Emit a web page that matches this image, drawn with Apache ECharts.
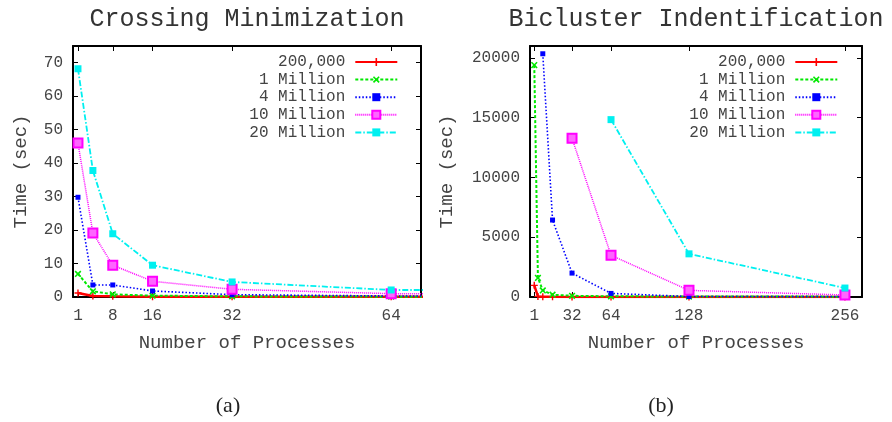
<!DOCTYPE html>
<html><head><meta charset="utf-8">
<script src="https://cdn.jsdelivr.net/npm/echarts@6/dist/echarts.min.js"></script>
<style>html,body{margin:0;padding:0;background:#fff}#c{width:892px;height:422px}</style>
</head><body><div id="c"></div>
<script>
// ---------- data ----------
const seriesNames = ['200,000', '1 Million', '4 Million', '10 Million', '20 Million'];

// (a) Crossing Minimization
const procsA = [1, 4, 8, 16, 32, 64, 128];
const crossing200k = [1.2, 0.3, 0.2, 0.1, 0.1, 0.05, 0.05];
const crossing1M   = [6.9, 1.7, 0.8, 0.4, 0.2, 0.1, 0.1];
const crossing4M   = [29.8, 3.6, 3.6, 1.8, 0.7, 0.3, 0.2];
const crossing10M  = [46.0, 19.1, 9.5, 4.7, 2.3, 1.0, 1.0];
const crossing20M  = [68.2, 37.8, 18.9, 9.5, 4.5, 2.1, 2.0];
const xTicksA = [1, 8, 16, 32, 64];
const yTicksA = [0, 10, 20, 30, 40, 50, 60, 70];

// (b) Bicluster Indentification
const procsB = [1, 4, 8, 16, 32, 64, 128, 256];
const bicluster200k = [975, 50, 30, 20, 10, 5, 3, 2];
const bicluster1M   = [19400, 1600, 550, 190, 100, 60, 40, 30];
const bicluster4M   = [null, null, 20350, 6440, 2000, 300, 40, 30];
const bicluster10M  = [null, null, null, null, 13280, 3490, 555, 170];
const bicluster20M  = [null, null, null, null, null, 14840, 3610, 750];
const xTicksB = [1, 32, 64, 128, 256];
const yTicksB = [0, 5000, 10000, 15000, 20000];

// ---------- styles ----------
const MONO = '"Liberation Mono", "DejaVu Sans Mono", monospace';
const PLUS = 'path://M4,0H6V4H10V6H6V10H4V6H0V4H4Z';
const styles = [
  { color: '#ff0000', width: 2.5, type: 'solid', symbol: PLUS, size: 7, rotate: 0, fill: '#ff0000' },
  { color: '#00e800', width: 2, type: [3, 2], symbol: PLUS, size: 8, rotate: 45, fill: '#00e800' },
  { color: '#0000ff', width: 1.6, type: [1.5, 2], symbol: 'rect', size: 5, rotate: 0, fill: '#0000ff' },
  { color: '#ff00ff', width: 1.5, type: [1, 1], symbol: 'rect', size: 9, rotate: 0, fill: '#ff66ff' },
  { color: '#00f0f0', width: 1.8, type: [6, 2, 1.5, 2], symbol: 'rect', size: 7, rotate: 0, fill: '#00f0f0' }
];

function pairs(xs, ys) {
  const out = [];
  for (let i = 0; i < xs.length; i++) if (ys[i] !== null) out.push([xs[i], ys[i]]);
  return out;
}

function mkSeries(name, xs, ys, st, axisIdx) {
  return {
    type: 'line', name: name, data: pairs(xs, ys),
    xAxisIndex: axisIdx, yAxisIndex: axisIdx, clip: true,
    symbol: st.symbol, symbolSize: st.size, symbolRotate: st.rotate,
    showAllSymbol: true,
    lineStyle: { color: st.color, width: st.width, type: st.type },
    itemStyle: { color: st.fill, borderColor: st.color, borderWidth: st.symbol === 'rect' && st.fill !== st.color ? 2 : 0 },
    emphasis: { disabled: true }
  };
}

const labelStyle = { fontFamily: MONO, fontSize: 16, color: '#444' };
const nameStyle = { fontFamily: MONO, fontSize: 19, color: '#444' };

function xAx(grid, min, max, ticks, pos, withLabels) {
  return {
    gridIndex: grid, type: 'value', min: min, max: max, position: pos,
    axisLine: { show: true, onZero: false, lineStyle: { color: '#000', width: 2 } },
    axisTick: { show: true, inside: true, length: 5, customValues: ticks, lineStyle: { color: '#000', width: 1 } },
    axisLabel: Object.assign({ show: withLabels, customValues: ticks, margin: 11, formatter: v => String(v) }, labelStyle),
    splitLine: { show: false },
    name: withLabels ? 'Number of Processes' : '', nameLocation: 'middle', nameGap: 36,
    nameTextStyle: nameStyle
  };
}
function yAx(grid, min, max, ticks, pos, withLabels, gap) {
  return {
    gridIndex: grid, type: 'value', min: min, max: max, position: pos,
    axisLine: { show: true, onZero: false, lineStyle: { color: '#000', width: 2 } },
    axisTick: { show: true, inside: true, length: 5, customValues: ticks, lineStyle: { color: '#000', width: 1 } },
    axisLabel: Object.assign({ show: withLabels, customValues: ticks, margin: 10, formatter: v => String(v) }, labelStyle),
    splitLine: { show: false },
    name: withLabels ? 'Time (sec)' : '', nameLocation: 'middle', nameGap: gap,
    nameTextStyle: nameStyle
  };
}

function legendAt(right) {
  return {
    data: seriesNames, orient: 'vertical', right: right, top: 49, align: 'right',
    itemWidth: 42, itemHeight: 10, itemGap: 1.6, selectedMode: false,
    textStyle: Object.assign({ lineHeight: 16, padding: [0, 5, 0, 0] }, labelStyle)
  };
}

const dataA = [crossing200k, crossing1M, crossing4M, crossing10M, crossing20M];
const dataB = [bicluster200k, bicluster1M, bicluster4M, bicluster10M, bicluster20M];
const series = [];
dataA.forEach((d, i) => series.push(mkSeries(seriesNames[i], procsA, d, styles[i], 0)));
dataB.forEach((d, i) => series.push(mkSeries(seriesNames[i], procsB, d, styles[i], 2)));

function txt(x, y, text, font, fill) {
  return { type: 'text', x: x, y: y, silent: true,
    style: { text: text, font: font, fill: fill, align: 'center', verticalAlign: 'middle', textAlign: 'center', textVerticalAlign: 'middle' } };
}

const chart = echarts.init(document.getElementById('c'), null, { renderer: 'canvas' });
chart.setOption({
  animation: false,
  backgroundColor: '#fff',
  grid: [
    { left: 73, top: 46, width: 348, height: 251 },
    { left: 530, top: 46, width: 332, height: 251 }
  ],
  xAxis: [
    xAx(0, 0, 70, xTicksA, 'bottom', true),
    xAx(0, 0, 70, xTicksA, 'top', false),
    xAx(1, -2.5, 270, xTicksB, 'bottom', true),
    xAx(1, -2.5, 270, xTicksB, 'top', false)
  ],
  yAxis: [
    yAx(0, 0, 75, yTicksA, 'left', true, 43),
    yAx(0, 0, 75, yTicksA, 'right', false, 0),
    yAx(1, 0, 21000, yTicksB, 'left', true, 74),
    yAx(1, 0, 21000, yTicksB, 'right', false, 0)
  ],
  legend: [legendAt(488.7), legendAt(48.7)],
  series: series,
  graphic: [
    txt(247, 19, 'Crossing Minimization', '25px "Liberation Mono", monospace', '#333'),
    txt(696, 19, 'Bicluster Indentification', '25px "Liberation Mono", monospace', '#333'),
    txt(228, 406, '(a)', '22px "Liberation Serif", serif', '#222'),
    txt(661, 406, '(b)', '22px "Liberation Serif", serif', '#222')
  ]
});
</script>
</body></html>
